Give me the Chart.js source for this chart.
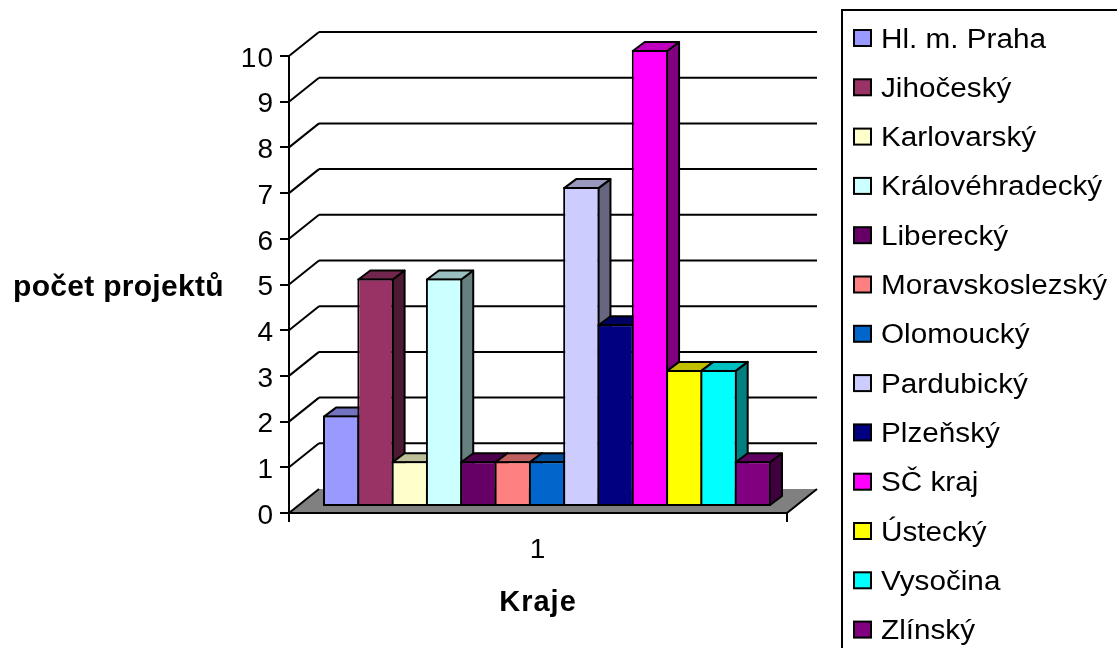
<!DOCTYPE html>
<html>
<head>
<meta charset="utf-8">
<title>Kraje</title>
<script src="https://cdn.jsdelivr.net/npm/chart.js@4"></script>
<style>
  body { margin: 0; background: #fff; }
  canvas { display: block; }
</style>
</head>
<body>
<canvas id="krajeChart" width="1117" height="648"></canvas>
<script>
// data
const categories = ["1"];
const regions = ["Hl. m. Praha", "Jihočeský", "Karlovarský", "Královéhradecký", "Liberecký",
    "Moravskoslezský", "Olomoucký", "Pardubický", "Plzeňský", "SČ kraj", "Ústecký", "Vysočina", "Zlínský"];
const projects = [2, 5, 1, 5, 1, 1, 1, 7, 4, 10, 3, 3, 1];
const colors = ["#9999FF", "#993366", "#FFFFCC", "#CCFFFF", "#660066", "#FF8080", "#0066CC",
    "#CCCCFF", "#000080", "#FF00FF", "#FFFF00", "#00FFFF", "#800080"];
const yTitle = "počet projektů";
const xTitle = "Kraje";

const FONT = '"Liberation Sans", Arial, sans-serif';
// back wall and bar offsets of the fake 3D
const wallX = 30, wallY = 24;
const barShiftX = 9, barShiftY = 6;
const depthX = 12, depthY = 9;

function shade(hex, k) {
    let r = Math.round(parseInt(hex.substr(1, 2), 16) * k);
    let g = Math.round(parseInt(hex.substr(3, 2), 16) * k);
    let b = Math.round(parseInt(hex.substr(5, 2), 16) * k);
    return "rgb(" + r + "," + g + "," + b + ")";
}

function poly(ctx, pts, fill) {
    ctx.beginPath();
    ctx.moveTo(pts[0][0], pts[0][1]);
    for (let i = 1; i < pts.length; i++) {
        ctx.lineTo(pts[i][0], pts[i][1]);
    }
    ctx.closePath();
    ctx.fillStyle = fill;
    ctx.fill();
    ctx.stroke();
}

function line(ctx, x1, y1, x2, y2) {
    ctx.beginPath();
    ctx.moveTo(x1, y1);
    ctx.lineTo(x2, y2);
    ctx.stroke();
}

const wallPlugin = {
    id: "wall",
    afterLayout(chart) {
        // canvas "middle" sits a bit high for digits
        chart.scales.y.getLabelItems().forEach(function (item) {
            item.textOffset += 3;
        });
    },
    beforeDraw(chart) {
        const ctx = chart.ctx;
        const area = chart.chartArea;
        const y = chart.scales.y;
        ctx.save();
        ctx.fillStyle = "#fff";
        ctx.fillRect(0, 0, chart.width, chart.height);
        ctx.strokeStyle = "#000";
        ctx.lineWidth = 2;

        // grid lines on the wall
        y.ticks.forEach(function (t) {
            if (t.value === 0) return;
            let py = y.getPixelForValue(t.value);
            line(ctx, area.left, py, area.left + wallX, py - wallY);
            line(ctx, area.left + wallX, py - wallY, area.right + wallX, py - wallY);
        });

        // floor
        let b = area.bottom;
        ctx.beginPath();
        ctx.moveTo(area.left, b);
        ctx.lineTo(area.right, b);
        ctx.lineTo(area.right + wallX, b - wallY);
        ctx.lineTo(area.left + wallX, b - wallY);
        ctx.closePath();
        ctx.fillStyle = "#808080";
        ctx.fill();
        line(ctx, area.left, b, area.left + wallX, b - wallY);
        line(ctx, area.right, b, area.right + wallX, b - wallY);
        ctx.restore();
        ctx.letterSpacing = "1px";
    },
    // bars have to go left to right so each one covers the side of the one before,
    // chart.js paints them the other way round
    beforeDatasetsDraw(chart) {
        const ctx = chart.ctx;
        ctx.save();
        ctx.translate(barShiftX, -barShiftY);
        ctx.strokeStyle = "#000";
        ctx.lineWidth = 2;
        ctx.lineJoin = "round";
        for (let i = 0; i < regions.length; i++) {
            const bar = chart.getDatasetMeta(i).data[0];
            const p = bar.getProps(["x", "y", "base", "width"], true);
            let l = p.x - p.width / 2 + 1, r = p.x + p.width / 2 - 1;
            let t = p.y + 1, b = p.base - 1;
            poly(ctx, [[r, t], [r + depthX, t - depthY], [r + depthX, b - depthY], [r, b]], shade(colors[i], 0.5));
            poly(ctx, [[l, t], [r, t], [r + depthX, t - depthY], [l + depthX, t - depthY]], shade(colors[i], 0.75));
            bar.draw(ctx);
        }
        ctx.restore();
        return false;
    },
    afterDraw(chart) {
        const ctx = chart.ctx;
        ctx.save();
        ctx.fillStyle = "#000";
        ctx.textAlign = "left";
        ctx.textBaseline = "alphabetic";

        // y title stays horizontal, so the axis title option can't be used
        ctx.font = "bold 30px " + FONT;
        ctx.letterSpacing = "0.3px";
        ctx.fillText(yTitle, 13, 296);

        // legend frame runs off the right and bottom edge
        ctx.strokeStyle = "#000";
        ctx.lineWidth = 2;
        ctx.strokeRect(842, 10, 300, 660);

        // 13 rows don't fit the built in legend without wrapping
        ctx.font = "27px " + FONT;
        ctx.letterSpacing = "0px";
        for (let i = 0; i < regions.length; i++) {
            let rowY = 38 + i * 49.3;
            ctx.fillStyle = colors[i];
            ctx.fillRect(854, rowY - 8, 17, 16);
            ctx.strokeRect(854, rowY - 8, 17, 16);
            ctx.fillStyle = "#000";
            ctx.save();
            ctx.translate(881, rowY + 9.5);
            ctx.scale(1.1, 1);
            ctx.fillText(regions[i], 0, 0);
            ctx.restore();
        }
        ctx.restore();
    }
};

const datasets = regions.map(function (name, i) {
    return {
        label: name,
        data: [projects[i]],
        backgroundColor: colors[i],
        borderColor: "#000",
        borderWidth: 2,
        borderSkipped: false,
        categoryPercentage: 0.8956,
        barPercentage: 1.058
    };
});

const chart = new Chart(document.getElementById("krajeChart").getContext("2d"), {
    type: "bar",
    data: { labels: categories, datasets: datasets },
    plugins: [wallPlugin],
    options: {
        responsive: false,
        animation: false,
        layout: { padding: { left: 0, top: 56, right: 330, bottom: 0 } },
        plugins: {
            legend: { display: false },
            tooltip: { enabled: false }
        },
        scales: {
            x: {
                afterFit(scale) { scale.height = 135; },
                border: { color: "#000", width: 2 },
                grid: { offset: true, color: "#000", lineWidth: 2, drawOnChartArea: false, drawTicks: true, tickLength: 9 },
                ticks: { color: "#000", font: { family: FONT, size: 28 }, padding: 11, maxRotation: 0 },
                title: { display: true, text: xTitle, color: "#000", font: { family: FONT, size: 29, weight: "bold" }, padding: { top: 0, bottom: 28 } }
            },
            y: {
                min: 0,
                max: 10,
                afterFit(scale) { scale.width = 289; },
                border: { color: "#000", width: 2 },
                grid: { color: "#000", lineWidth: 2, drawOnChartArea: false, drawTicks: true, tickLength: 9 },
                ticks: { stepSize: 1, color: "#000", font: { family: FONT, size: 28 }, padding: 6, autoSkip: false }
            }
        }
    }
});
</script>
</body>
</html>
